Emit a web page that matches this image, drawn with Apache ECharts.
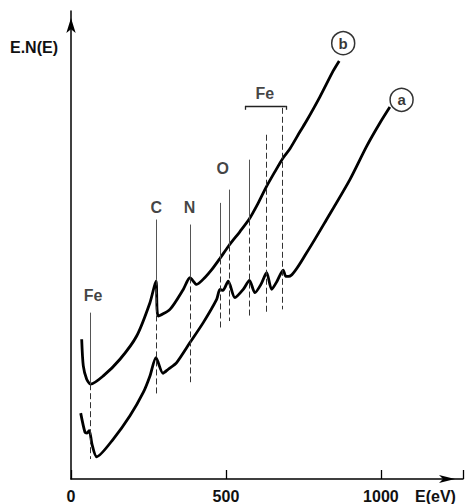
<!DOCTYPE html>
<html><head><meta charset="utf-8">
<script src="https://cdn.jsdelivr.net/npm/echarts@6/dist/echarts.min.js"></script>
<style>html,body{margin:0;padding:0;background:#fff}#c{width:471px;height:504px}</style>
</head><body><div id="c"></div>
<script>
// ---- data (energy in eV, intensity in arbitrary units) ----
const xTickLabels = ['0', '500', '1000'];
const energyB = [34.5, 39.7, 50.6, 63.5, 104.2, 158.1, 211.9, 254.8, 274.2, 281.6, 319.4, 362.3, 383.9, 405.5, 432.3, 454.8, 480.6, 509.7, 545.2, 574.2, 603.2, 629.0, 658.1, 684.8, 706.5, 738.7, 760.3, 803.2, 846.1, 865.5];
const intensityB = [140, 113.3, 100, 95, 103.3, 120, 143.3, 176.7, 198.3, 163.3, 170, 190, 201.7, 195, 202, 210, 221, 234, 248, 260, 276, 292, 308, 322, 331, 348, 359, 383, 409, 419];
const energyA = [31.3, 45.2, 51.6, 59.0, 67.7, 82.9, 136.5, 190.3, 233.2, 254.8, 274.2, 296.8, 313.9, 341.0, 383.9, 426.8, 470.0, 480.6, 490.3, 507.4, 529.0, 555.8, 575.8, 593.5, 612.9, 631.3, 647.4, 664.5, 684.8, 693.5, 706.5, 760.3, 824.8, 900.0, 953.9, 996.8, 1029.0];
const intensityA = [66, 46.7, 46, 48.5, 35, 22.3, 40, 63.3, 86.7, 103.3, 121.7, 106, 110, 116.7, 136.7, 156.7, 180, 190, 189, 198.3, 181.7, 190, 199, 186.7, 195, 206.7, 190, 198, 209.3, 203, 203.3, 226.7, 260, 300, 333.3, 356.7, 372.7];
// peak marker lines
const markerEnergy = [63.5, 274.2, 383.9, 480.6, 509.7, 574.2, 629.0, 682.9];
const markerSolidTop = [166.7, 260, 255, 276.7, 290, 320, 345, 372];
const markerSolidBottom = [95, 200, 202, 221, 234, 260, 345, 372];
const markerDashBottom = [20, 83, 97, 151.7, 158.3, 163.3, 165, 170];
// Fe bracket
const bracketEnergy = [563.5, 693.5];
const bracketLevel = [374, 370];
// element labels
const labelText = ['Fe', 'C', 'N', 'O', 'Fe'];
const labelEnergy = [71, 275.2, 382.3, 489.7, 625.8];
const labelLevel = [184, 272.5, 272.5, 310.7, 386.7];
// curve tags
const tagText = ['b', 'a'];
const tagEnergy = [878.4, 1066.8];
const tagLevel = [436.7, 380];

const FONT = 'Liberation Sans';
const chart = echarts.init(document.getElementById('c'), null, {renderer: 'svg'});

const zip = (xs, ys) => xs.map((x, i) => [x, ys[i]]);
const solidStyle = {color: '#555', width: 1, type: 'solid'};
const dashStyle = {color: '#333', width: 1, type: [6, 3]};
const markData = [];
markerEnergy.forEach((x, i) => {
  if (markerSolidTop[i] > markerSolidBottom[i]) {
    markData.push([{coord: [x, markerSolidTop[i]], lineStyle: solidStyle}, {coord: [x, markerSolidBottom[i]], lineStyle: solidStyle}]);
  }
  markData.push([{coord: [x, markerSolidBottom[i]], lineStyle: dashStyle}, {coord: [x, markerDashBottom[i]], lineStyle: dashStyle}]);
});
const bStyle = {color: '#222', width: 1.3, type: 'solid'};
markData.push([{coord: [bracketEnergy[0], bracketLevel[0]], lineStyle: bStyle}, {coord: [bracketEnergy[1], bracketLevel[0]], lineStyle: bStyle}]);
markData.push([{coord: [bracketEnergy[0], bracketLevel[0]], lineStyle: bStyle}, {coord: [bracketEnergy[0], bracketLevel[1]], lineStyle: bStyle}]);
markData.push([{coord: [bracketEnergy[1], bracketLevel[0]], lineStyle: bStyle}, {coord: [bracketEnergy[1], bracketLevel[1]], lineStyle: bStyle}]);

const textStyle = {fontFamily: FONT, fontSize: 16, fontWeight: 'bold', color: '#111'};

chart.setOption({
  animation: false,
  backgroundColor: '#fff',
  grid: {left: 71, right: 8, top: 11, bottom: 24, containLabel: false},
  xAxis: {
    type: 'value', min: 0, max: 1265, interval: 500,
    axisLine: {show: true, lineStyle: {color: '#000', width: 1.5}, symbol: ['none', 'arrow'], symbolSize: [6, 16], symbolOffset: [0, -8]},
    axisTick: {show: true, inside: true, length: 9, lineStyle: {color: '#000', width: 1.3}},
    axisLabel: {show: true, margin: 9, formatter: v => xTickLabels[Math.round(v / 500)] || '', ...textStyle},
    splitLine: {show: false}
  },
  yAxis: {
    type: 'value', min: 0, max: 469,
    axisLine: {show: true, lineStyle: {color: '#000', width: 1.5}, symbol: ['none', 'arrow'], symbolSize: [7, 15], symbolOffset: [0, -7]},
    axisTick: {show: false}, axisLabel: {show: false}, splitLine: {show: false}
  },
  graphic: [
    {type: 'text', left: 10, top: 39, style: {text: 'E.N(E)', font: 'bold 16px ' + FONT, fill: '#111'}},
    {type: 'text', left: 415, top: 488, style: {text: 'E(eV)', font: 'bold 16px ' + FONT, fill: '#111'}}
  ],
  series: [
    {type: 'line', name: 'b', data: zip(energyB, intensityB), smooth: 0.25, symbol: 'none',
     lineStyle: {color: '#000', width: 2.8}, z: 3,
     markLine: {silent: true, symbol: 'none', label: {show: false}, animation: false, data: markData}},
    {type: 'line', name: 'a', data: zip(energyA, intensityA), smooth: 0.25, symbol: 'none',
     lineStyle: {color: '#000', width: 2.8}, z: 3},
    {type: 'scatter', symbolSize: 0, z: 5,
     data: labelText.map((t, i) => ({name: t, value: [labelEnergy[i], labelLevel[i]]})),
     label: {show: true, position: 'inside', formatter: '{b}', ...textStyle}},
    {type: 'scatter', symbol: 'circle', symbolSize: 23, z: 5,
     itemStyle: {color: '#fff', borderColor: '#000', borderWidth: 1.5},
     data: tagText.map((t, i) => ({name: t, value: [tagEnergy[i], tagLevel[i]]})),
     label: {show: true, position: 'inside', formatter: '{b}', fontFamily: FONT, fontSize: 15, fontWeight: 'bold', color: '#000'}}
  ]
});
</script></body></html>
